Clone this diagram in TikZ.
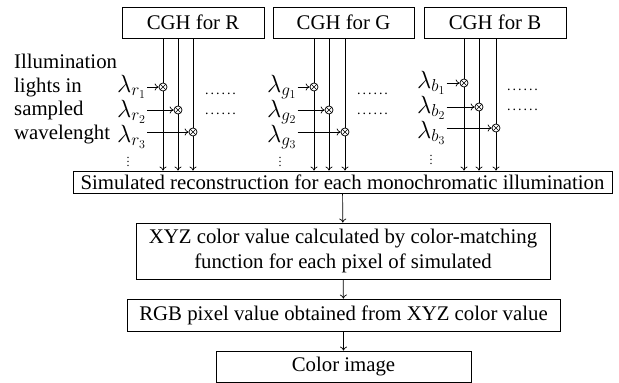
\documentclass[tikz,border=0pt]{standalone}
\usepackage{fontspec}
\setmainfont{Liberation Serif}
\usetikzlibrary{arrows.meta}
\begin{document}
\begin{tikzpicture}[x=1pt,y=-1pt,
  txt/.style={font=\fontsize{20.8}{25}\selectfont},
  box/.style={draw, line width=0.8pt, inner sep=0pt, minimum height=31pt, txt, align=center},
  mix/.style={circle, draw, line width=0.7pt, minimum size=8pt, inner sep=0pt},
  lam/.style={anchor=base west, inner sep=0pt, font=\fontsize{24}{26}\selectfont},
  hdots/.style={anchor=base west, inner sep=0pt, font=\fontsize{14}{14}\selectfont\addfontfeature{LetterSpace=14}},
  vdot/.style={inner sep=0pt, text height=9.5pt, text depth=0pt, font=\fontsize{12}{12}\selectfont},
  line/.style={line width=0.7pt},
  arr/.style={line width=0.7pt, -{To[length=4pt,width=7pt]}}]
\useasboundingbox (0,0) rectangle (619,383);

% top boxes
\node[box, minimum width=142pt] (cghR) at (193,22.5) {CGH for R};
\node[box, minimum width=141pt] (cghG) at (343.5,22.5) {CGH for G};
\node[box, minimum width=142pt] (cghB) at (495,22.5) {CGH for B};

% column boxes
\node[box, minimum width=539pt, minimum height=22pt] (sim) at (342.5,182) {Simulated reconstruction for each monochromatic illumination};
\node[box, minimum width=414pt, minimum height=56pt] (xyz) at (343,251) {XYZ color value calculated by color-matching\\function for each pixel of simulated};
\node[box, minimum width=433pt, minimum height=32pt] (rgb) at (343.5,315) {RGB pixel value obtained from XYZ color value};
\node[box, minimum width=255pt, minimum height=31pt] (img) at (343.5,366.5) {Color image};

% left text
\node[anchor=north west, inner sep=0pt, align=left, font=\fontsize{20.8}{23.5}\selectfont] (illum) at (14,54) {Illumination\\lights in\\sampled\\wavelenght};

% mixers
\node[mix] (cr1) at (163,87) {};
\node[mix] (cr2) at (178,110) {};
\node[mix] (cr3) at (193,132) {};
\node[mix] (cg1) at (314,87) {};
\node[mix] (cg2) at (329,110) {};
\node[mix] (cg3) at (345,132) {};
\node[mix] (cb1) at (464,83) {};
\node[mix] (cb2) at (479,107) {};
\node[mix] (cb3) at (496,128) {};
\foreach \c in {cr1,cr2,cr3,cg1,cg2,cg3,cb1,cb2,cb3}
  \draw[line width=0.6pt] (\c.45) -- (\c.225) (\c.135) -- (\c.315);

% wavelength labels
\node[lam] (lr1) at (117,92) {$\lambda_{r_1}$};
\node[lam] (lr2) at (117,117) {$\lambda_{r_2}$};
\node[lam] (lr3) at (117,142) {$\lambda_{r_3}$};
\node[lam] (lg1) at (267,92) {$\lambda_{g_1}$};
\node[lam] (lg2) at (267,117) {$\lambda_{g_2}$};
\node[lam] (lg3) at (267,142) {$\lambda_{g_3}$};
\node[lam] (lb1) at (417,88) {$\lambda_{b_1}$};
\node[lam] (lb2) at (417,113) {$\lambda_{b_2}$};
\node[lam] (lb3) at (417,138) {$\lambda_{b_3}$};

% vertical dots
\node[vdot] (vr) at (128,161.5) {$\vdots$};
\node[vdot] (vg) at (280,161.5) {$\vdots$};
\node[vdot] (vb) at (431,159.5) {$\vdots$};

% horizontal dots
\node[hdots] (dr1) at (205,94) {......};
\node[hdots] (dr2) at (205,114) {......};
\node[hdots] (dg1) at (357,94) {......};
\node[hdots] (dg2) at (357,114) {......};
\node[hdots] (db1) at (507,90) {......};
\node[hdots] (db2) at (507,110) {......};

% vertical lines through mixers
\foreach \c/\b in {cr1/cghR,cr2/cghR,cr3/cghR,cg1/cghG,cg2/cghG,cg3/cghG,cb1/cghB,cb2/cghB,cb3/cghB}{
  \draw[line] (\b.south -| \c) -- (\c);
  \draw[arr] (\c) -- (\c |- sim.north);
}

% illumination arrows
\foreach \l/\c in {lr1/cr1,lr2/cr2,lr3/cr3,lg1/cg1,lg2/cg2,lg3/cg3,lb1/cb1,lb2/cb2,lb3/cb3}
  \draw[arr, shorten <=1pt] (\l.east |- \c) -- (\c);

% main flow
\draw[arr] (sim) -- (xyz);
\draw[arr] (xyz) -- (rgb);
\draw[arr] (rgb) -- (img);
\end{tikzpicture}
\end{document}
